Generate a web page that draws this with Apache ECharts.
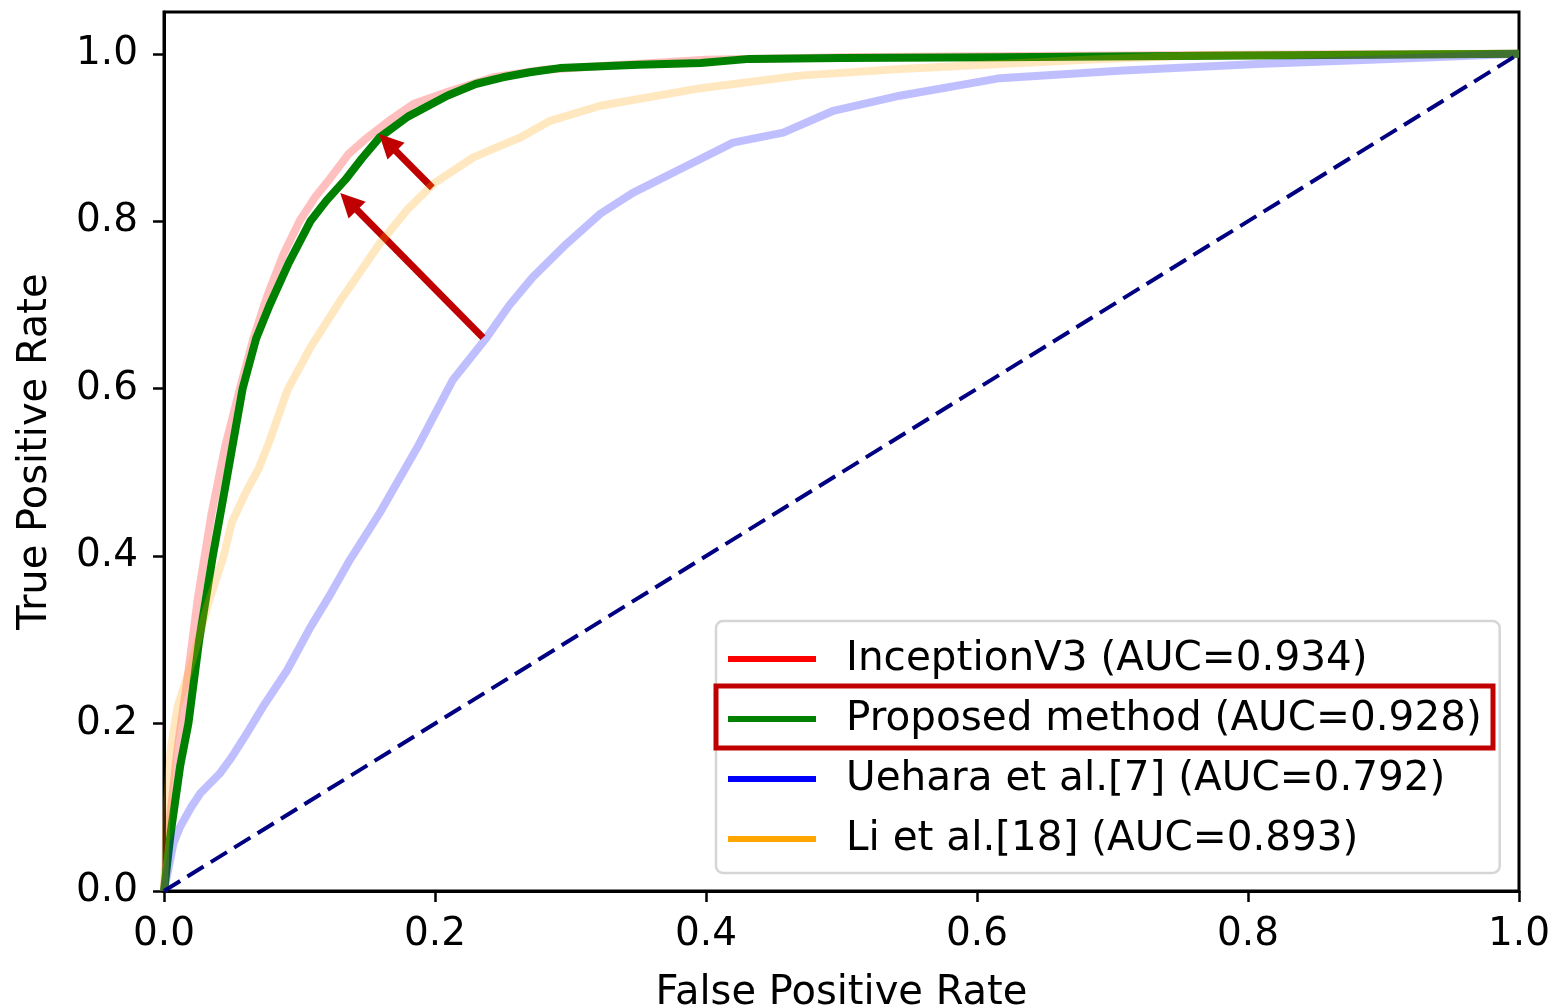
<!DOCTYPE html>
<html>
<head>
<meta charset="utf-8">
<script src="https://cdn.jsdelivr.net/npm/echarts@6/dist/echarts.min.js"></script>
<style>
  html, body { margin: 0; padding: 0; background: #fff; }
  #roc { width: 1554px; height: 1008px; }
</style>
</head>
<body>
<div id="roc"></div>
<script>
// 数据: [FPR, TPR]
var seriesNames = [
  'InceptionV3 (AUC=0.934)',
  'Proposed method (AUC=0.928)',
  'Uehara et al.[7] (AUC=0.792)',
  'Li et al.[18] (AUC=0.893)'
];

var inceptionRoc = [
  [0, 0], [0.004, 0.08], [0.01, 0.17], [0.017, 0.25], [0.025, 0.35], [0.035, 0.45],
  [0.045, 0.53], [0.056, 0.6], [0.066, 0.66], [0.076, 0.71], [0.088, 0.76], [0.1, 0.8],
  [0.112, 0.83], [0.122, 0.85], [0.136, 0.88], [0.15, 0.9], [0.166, 0.92], [0.184, 0.94],
  [0.21, 0.955], [0.243, 0.972], [0.28, 0.981], [0.33, 0.986], [0.4, 0.993], [0.5, 0.996],
  [0.6, 0.997], [0.8, 0.999], [1, 1]
];

var proposedRoc = [
  [0, 0], [0.005, 0.07], [0.012, 0.15], [0.018, 0.2], [0.026, 0.3], [0.036, 0.4],
  [0.046, 0.49], [0.058, 0.6], [0.068, 0.66], [0.078, 0.7], [0.092, 0.75], [0.108, 0.8],
  [0.12, 0.825], [0.134, 0.85], [0.146, 0.875], [0.159, 0.9], [0.18, 0.925], [0.209, 0.95],
  [0.23, 0.964], [0.25, 0.972], [0.27, 0.978], [0.292, 0.983], [0.35, 0.987], [0.396, 0.989],
  [0.432, 0.994], [0.5, 0.995], [0.617, 0.996], [0.8, 0.998], [1, 1]
];

var ueharaRoc = [
  [0, 0], [0.007, 0.057], [0.012, 0.077], [0.02, 0.1], [0.027, 0.117], [0.041, 0.14],
  [0.05, 0.16], [0.061, 0.188], [0.073, 0.22], [0.091, 0.264], [0.108, 0.315], [0.123, 0.355],
  [0.137, 0.395], [0.159, 0.451], [0.187, 0.53], [0.213, 0.61], [0.238, 0.661], [0.255, 0.7],
  [0.272, 0.733], [0.297, 0.773], [0.322, 0.809], [0.346, 0.834], [0.383, 0.864], [0.42, 0.894],
  [0.457, 0.906], [0.494, 0.932], [0.543, 0.95], [0.617, 0.971], [0.708, 0.98], [0.807, 0.988],
  [0.905, 0.994], [1, 1]
];

var liRoc = [
  [0, 0], [0.002, 0.1], [0.005, 0.17], [0.01, 0.22], [0.021, 0.276], [0.032, 0.34],
  [0.044, 0.4], [0.05, 0.44], [0.06, 0.475], [0.07, 0.505], [0.078, 0.538], [0.091, 0.598],
  [0.108, 0.649], [0.13, 0.705], [0.145, 0.74], [0.159, 0.773], [0.179, 0.813], [0.199, 0.845],
  [0.228, 0.876], [0.248, 0.89], [0.263, 0.9], [0.285, 0.92], [0.322, 0.938], [0.396, 0.959],
  [0.469, 0.974], [0.543, 0.982], [0.617, 0.988], [0.68, 0.993], [0.76, 0.998], [1, 1]
];

var chanceLine = [[0, 0], [1, 1]];

// 箭头: [起点, 终点(三角形中心)]
var arrows = [
  [[0.198, 0.840], [0.165, 0.894]],
  [[0.2354, 0.661], [0.1363, 0.8236]]
];

var tickValues = [0, 0.2, 0.4, 0.6, 0.8, 1.0];

var colors = ['#ff0000', '#008000', '#0000ff', '#ffa500'];
var rocData = [inceptionRoc, proposedRoc, ueharaRoc, liRoc];
var opacities = [0.25, 1, 0.25, 0.25];

var FONT = 'DejaVu Sans';

var myChart = echarts.init(document.getElementById('roc'));

var series = rocData.map(function (d, i) {
  return {
    name: seriesNames[i],
    type: 'line',
    data: d,
    symbol: 'none',
    showSymbol: false,
    silent: true,
    animation: false,
    z: 2 + i,
    itemStyle: { color: colors[i] },
    lineStyle: { color: colors[i], width: 8, opacity: opacities[i], join: 'round' }
  };
});

// 对角虚线
series.push({
  name: 'chance',
  type: 'line',
  data: chanceLine,
  symbol: 'none',
  silent: true,
  animation: false,
  z: 7,
  lineStyle: { color: '#000080', width: 4, type: [19, 8.5] }
});

// 红色箭头
series.push({
  name: 'arrows',
  type: 'line',
  data: [],
  silent: true,
  animation: false,
  z: 8,
  markLine: {
    silent: true,
    animation: false,
    symbol: ['none', 'triangle'],
    symbolSize: 24,
    label: { show: false },
    itemStyle: { color: '#c00000' },
    lineStyle: { color: '#c00000', width: 7, type: 'solid', opacity: 1 },
    emphasis: { disabled: true },
    data: arrows.map(function (a) {
      return [{ coord: a[0] }, { coord: a[1] }];
    })
  }
});

var tickLabel = function (v) { return v.toFixed(1); };

var option = {
  backgroundColor: '#fff',
  animation: false,
  grid: {
    left: 164, right: 35, top: 12, bottom: 117,
    outerBoundsMode: 'none',
    containLabel: false,
    show: true, borderColor: '#000', borderWidth: 3
  },
  xAxis: {
    type: 'value',
    min: 0, max: 1, interval: 0.2,
    name: 'False Positive Rate',
    nameLocation: 'middle',
    nameGap: 83,
    nameTextStyle: { fontSize: 40, fontFamily: FONT, color: '#000' },
    splitLine: { show: false },
    axisLine: { show: true, lineStyle: { color: '#000', width: 3 } },
    axisTick: { show: true, length: 11, customValues: tickValues, lineStyle: { color: '#000', width: 2.5 } },
    axisLabel: {
      fontSize: 39, fontFamily: FONT, color: '#000', margin: 24,
      customValues: tickValues, formatter: tickLabel
    }
  },
  yAxis: {
    type: 'value',
    min: 0, max: 1.05, interval: 0.2,
    name: 'True Positive Rate',
    nameLocation: 'middle',
    nameGap: 108,
    nameTextStyle: { fontSize: 40, fontFamily: FONT, color: '#000' },
    splitLine: { show: false },
    axisLine: { show: true, lineStyle: { color: '#000', width: 3 } },
    axisTick: { show: true, length: 11, customValues: tickValues, lineStyle: { color: '#000', width: 2.5 } },
    axisLabel: {
      fontSize: 39, fontFamily: FONT, color: '#000', margin: 26,
      customValues: tickValues, formatter: tickLabel
    }
  },
  legend: {
    orient: 'vertical',
    left: 716,
    top: 621,
    padding: [16, 18, 12, 9],
    itemGap: 16,
    itemWidth: 88,
    itemHeight: 6,
    backgroundColor: '#fff',
    borderColor: '#d5d5d5',
    borderWidth: 2.5,
    borderRadius: 7,
    selectedMode: false,
    textStyle: { fontSize: 40.5, fontFamily: FONT, color: '#000', lineHeight: 44, padding: [0, 0, 0, 25] },
    data: seriesNames.map(function (n, i) {
      return { name: n, lineStyle: { color: colors[i], opacity: 1, width: 6 }, itemStyle: { color: colors[i], opacity: 1 } };
    })
  },
  graphic: [{
    type: 'rect',
    z: 100,
    silent: true,
    shape: { x: 716, y: 686, width: 777, height: 62 },
    style: { fill: 'none', stroke: '#c00000', lineWidth: 5 }
  }],
  series: series
};

myChart.setOption(option);
</script>
</body>
</html>
